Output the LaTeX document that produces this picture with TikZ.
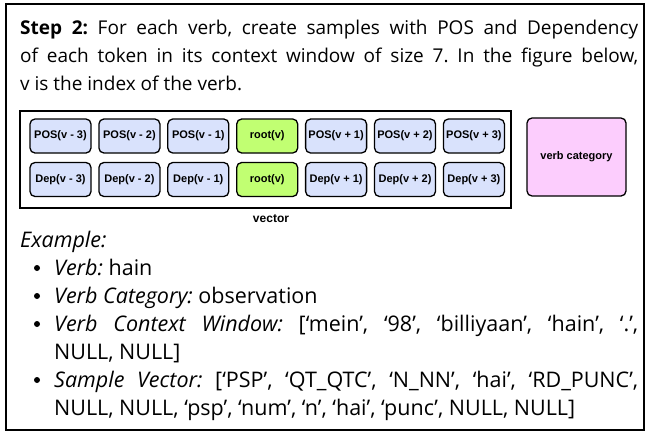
\documentclass[tikz,border=0pt]{standalone}
\usepackage{fontspec}
\setmainfont{Open Sans}
\newfontfamily\labelfont{Liberation Sans}
\definecolor{posblue}{HTML}{D9E2FC}
\definecolor{rootgreen}{HTML}{C1FF72}
\definecolor{catpink}{HTML}{FCCDFD}
\tikzset{
  tok/.style={draw, rounded corners=5pt, line width=1.3pt, fill=posblue,
    minimum width=61pt, minimum height=34pt, inner sep=0pt,
    font=\labelfont\bfseries\fontsize{11}{12}\selectfont},
  rootbox/.style={tok, fill=rootgreen},
  catbox/.style={tok, fill=catpink, minimum width=99pt, minimum height=78pt},
  para/.style={anchor=base west, inner sep=0pt, align=justify,
    font=\frenchspacing\fontsize{19}{28}\selectfont},
  itempara/.style={para, text width=584pt,
    font=\frenchspacing\fontsize{21.5}{28}\selectfont},
  dot/.style={circle, fill=black, inner sep=0pt, minimum size=6pt}
}
\begin{document}
\begin{tikzpicture}[x=1pt, y=-1pt]
    \useasboundingbox (0,0) rectangle (652,437);
    \def\dx{68.9}

    % outer frame
    \draw[line width=1.5pt] (6,4) rectangle (644,430);

    % step text
    \node[para, text width=618pt] (step) at (20,34)
      {\textbf{Step 2:} For each verb, create samples with POS and Dependency\linebreak
       of each token in its context window of size 7. In the figure below,\linebreak
       v is the index of the verb.};

    % vector
    \draw[line width=1.3pt] (20,111) rectangle (511,208);
    \foreach \i/\s/\n in {0/-/3, 1/-/2, 2/-/1, 4/+/1, 5/+/2, 6/+/3} {
        \node[tok] (pos\i) at (60.5+\i*\dx,136) {POS(v \s\ \n)};
        \node[tok] (dep\i) at (60.5+\i*\dx,179.5) {Dep(v \s\ \n)};
    }
    \node[rootbox] (pos3) at (60.5+3*\dx,136) {root(v)};
    \node[rootbox] (dep3) at (60.5+3*\dx,179.5) {root(v)};
    \node[font=\labelfont\bfseries\fontsize{12}{12}\selectfont] (veclabel) at (271,219) {vector};

    % category
    \node[catbox] (cat) at (576.5,157) {verb category};

    % example
    \node[itempara, text width=618pt] (example) at (20,247) {\emph{Example:}};
    \node[dot] (b1) at (37,268) {};
    \node[itempara] (item1) at (54,275) {\emph{Verb:} hain};
    \node[dot] (b2) at (37,296) {};
    \node[itempara] (item2) at (54,303) {\emph{Verb Category:} observation};
    \node[dot] (b3) at (37,324) {};
    \node[itempara] (item3) at (54,331)
      {\emph{Verb Context Window:} [‘mein’, ‘98’, ‘billiyaan’, ‘hain’, ‘.’,\linebreak NULL, NULL]};
    \node[dot] (b4) at (37,380) {};
    \node[itempara] (item4) at (54,387)
      {\emph{Sample Vector:} [‘PSP’, ‘QT\_QTC’, ‘N\_NN’, ‘hai’, ‘RD\_PUNC’,\linebreak
       NULL, NULL, ‘psp’, ‘num’, ‘n’, ‘hai’, ‘punc’, NULL, NULL]};
\end{tikzpicture}
\end{document}
